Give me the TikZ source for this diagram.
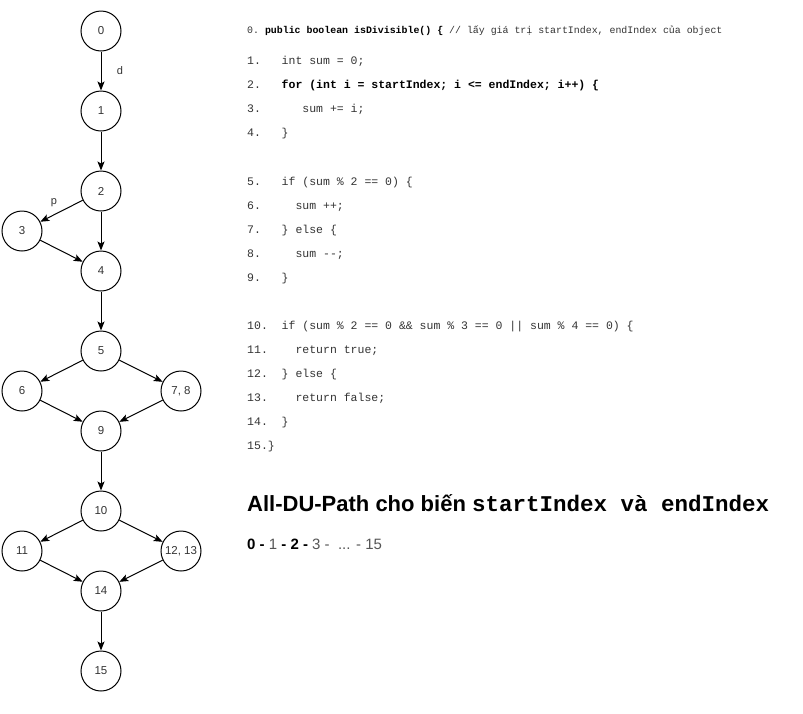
\documentclass[tikz,border=0pt]{standalone}
\usepackage{fontspec}
\setmainfont{Liberation Sans}
\setsansfont{Liberation Sans}
\setmonofont{Liberation Mono}
\usepackage{tikz}
\usetikzlibrary{arrows.meta}
\usetikzlibrary{positioning}

\definecolor{codegray}{RGB}{51,51,51}
\definecolor{pathgray}{RGB}{85,85,85}

\begin{document}
\begin{tikzpicture}[x=1pt,y=-1pt,
    >={Stealth[length=9pt,width=7pt,inset=2pt]},
    vertex/.style={circle,draw,line width=1pt,minimum size=40pt,inner sep=0pt,
      font=\fontsize{11.5}{13}\selectfont,text=codegray},
    flow/.style={->,line width=1pt},
    edgelbl/.style={font=\fontsize{11}{13}\selectfont,text=codegray},
    codeline/.style={anchor=mid west,inner sep=0pt,text=codegray,
      font=\ttfamily\fontsize{11.5}{13}\selectfont}]

  \useasboundingbox (0,0) rectangle (803,713);

  % control flow graph
  \node[vertex] (n0) at (101,31) {0};
  \node[vertex] (n1) at (101,111) {1};
  \node[vertex] (n2) at (101,191) {2};
  \node[vertex] (n3) at (22,231) {3};
  \node[vertex] (n4) at (101,271) {4};
  \node[vertex] (n5) at (101,351) {5};
  \node[vertex] (n6) at (22,391) {6};
  \node[vertex] (n78) at (181,391) {7, 8};
  \node[vertex] (n9) at (101,431) {9};
  \node[vertex] (n10) at (101,511) {10};
  \node[vertex] (n11) at (22,551) {11};
  \node[vertex] (n1213) at (181,551) {12, 13};
  \node[vertex] (n14) at (101,591) {14};
  \node[vertex] (n15) at (101,671) {15};

  \draw[flow] (n0) -- (n1);
  \draw[flow] (n1) -- (n2);
  \draw[flow] (n2) -- (n3);
  \draw[flow] (n2) -- (n4);
  \draw[flow] (n3) -- (n4);
  \draw[flow] (n4) -- (n5);
  \draw[flow] (n5) -- (n6);
  \draw[flow] (n5) -- (n78);
  \draw[flow] (n6) -- (n9);
  \draw[flow] (n78) -- (n9);
  \draw[flow] (n9) -- (n10);
  \draw[flow] (n10) -- (n11);
  \draw[flow] (n10) -- (n1213);
  \draw[flow] (n11) -- (n14);
  \draw[flow] (n1213) -- (n14);
  \draw[flow] (n14) -- (n15);

  \node[edgelbl] (lbld) at (120,71) {d};
  \node[edgelbl] (lblp) at (54,203) {p};

  % source code
  \node[codeline,font=\ttfamily\fontsize{9.9}{12}\selectfont] (c0) at (247,31)
    {0. {\color{black}\bfseries public boolean isDivisible() \{} // lấy giá trị startIndex, endIndex của object};
  \node[codeline] (c1) at (247,62) {1.~~~int sum = 0;};
  \node[codeline] (c2) at (247,86) {2.~~~{\color{black}\bfseries for (int i = startIndex; i <= endIndex; i++) \{}};
  \node[codeline] (c3) at (247,110) {3.~~~~~~sum += i;};
  \node[codeline] (c4) at (247,134) {4.~~~\}};

  \node[codeline] (c5) at (247,183) {5.~~~if (sum \% 2 == 0) \{};
  \node[codeline] (c6) at (247,207) {6.~~~~~sum ++;};
  \node[codeline] (c7) at (247,231) {7.~~~\} else \{};
  \node[codeline] (c8) at (247,255) {8.~~~~~sum -{}-;};
  \node[codeline] (c9) at (247,279) {9.~~~\}};

  \node[codeline] (c10) at (247,327) {10.~~if (sum \% 2 == 0 \&\& sum \% 3 == 0 || sum \% 4 == 0) \{};
  \node[codeline] (c11) at (247,351) {11.~~~~return true;};
  \node[codeline] (c12) at (247,375) {12.~~\} else \{};
  \node[codeline] (c13) at (247,399) {13.~~~~return false;};
  \node[codeline] (c14) at (247,423) {14.~~\}};
  \node[codeline] (c15) at (247,447) {15.\}};

  % du path
  \node[anchor=mid west,inner sep=0pt,font=\bfseries\fontsize{22}{26}\selectfont] (title) at (247,509)
    {All-DU-Path cho biến {\ttfamily\fontsize{22.5}{26}\selectfont startIndex và endIndex}};
  \node[anchor=mid west,inner sep=0pt,text=pathgray,font=\fontsize{15}{18}\selectfont] (dupath) at (247,547)
    {{\color{black}\bfseries 0 -} 1 {\color{black}\bfseries - 2 -} 3 -\ \ ... - 15};
\end{tikzpicture}
\end{document}
